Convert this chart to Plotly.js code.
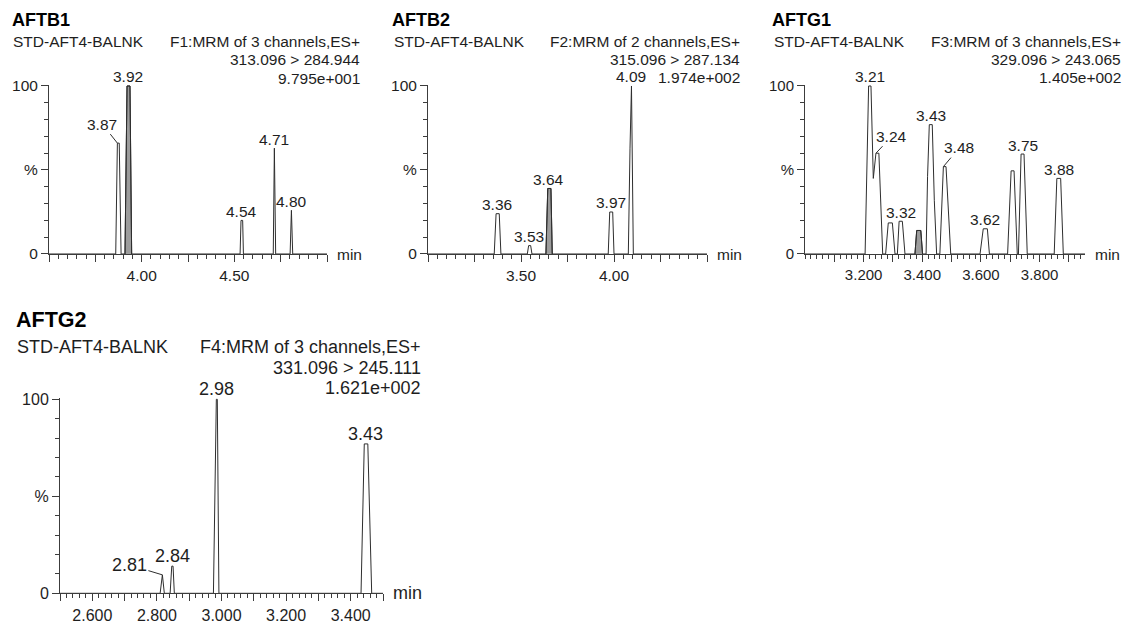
<!DOCTYPE html>
<html><head><meta charset="utf-8">
<script src="https://cdn.plot.ly/plotly-3.0.1.min.js"></script>
<style>html,body{margin:0;padding:0;background:#fff;} #chart{width:1130px;height:624px;}</style>
</head><body><div id="chart"></div>
<script>
// ---------- header texts ----------
const panelNames     = ['AFTB1', 'AFTB2', 'AFTG1', 'AFTG2'];
const sampleNames    = ['STD-AFT4-BALNK', 'STD-AFT4-BALNK', 'STD-AFT4-BALNK', 'STD-AFT4-BALNK'];
const functionNames  = ['F1:MRM of 3 channels,ES+', 'F2:MRM of 2 channels,ES+', 'F3:MRM of 3 channels,ES+', 'F4:MRM of 3 channels,ES+'];
const transitions    = ['313.096 > 284.944', '315.096 > 287.134', '329.096 > 243.065', '331.096 > 245.111'];
const maxIntensities = ['9.795e+001', '1.974e+002', '1.405e+002', '1.621e+002'];
const yTickVals = [0, 50, 100];
const yTickText = ['0', '%', '100'];

// ---------- AFTB1 ----------
const b1Time = [3.50, 3.860, 3.869, 3.879, 3.889, 3.910, 3.921, 3.937, 3.946, 4.531, 4.536, 4.545, 4.549, 4.710, 4.716, 4.723, 4.801, 4.808, 4.815, 5.00];
const b1Pct  = [0, 0, 66, 66, 0, 0, 100, 100, 0, 0, 20, 20, 0, 0, 63, 0, 0, 26, 0, 0];
const b1FillTime = [3.910, 3.921, 3.937, 3.946];
const b1FillPct  = [0, 100, 100, 0];
const b1Labels    = ['3.87', '3.92', '4.54', '4.71', '4.80'];
const b1LabelTime = [3.869, 3.926, 4.541, 4.714, 4.806];
const b1LabelPct  = [66, 100, 20, 63, 26];
const b1TickVals = [3.50, 3.75, 4.00, 4.25, 4.50, 4.75, 5.00];
const b1TickText = ['', '', '4.00', '', '4.50', '', ''];

// ---------- AFTB2 ----------
const b2Time = [3.00, 3.356, 3.366, 3.383, 3.392, 3.534, 3.541, 3.552, 3.559, 3.634, 3.644, 3.661, 3.668, 3.969, 3.977, 3.993, 4.000, 4.077, 4.086, 4.094, 4.104, 4.50];
const b2Pct  = [0, 0, 24, 24, 0, 0, 5, 5, 0, 0, 39, 39, 0, 0, 25, 25, 0, 0, 63, 100, 0, 0];
const b2FillTime = [3.634, 3.644, 3.661, 3.668];
const b2FillPct  = [0, 39, 39, 0];
const b2Labels    = ['3.36', '3.53', '3.64', '3.97', '4.09'];
const b2LabelTime = [3.370, 3.545, 3.650, 3.983, 4.094];
const b2LabelPct  = [24, 5, 39, 25, 100];
const b2TickVals = [3.00, 3.25, 3.50, 3.75, 4.00, 4.25, 4.50];
const b2TickText = ['', '', '3.50', '', '4.00', '', ''];

// ---------- AFTG1 ----------
const g1Time = [3.000, 3.205, 3.217, 3.225, 3.233, 3.242, 3.252, 3.265, 3.275, 3.284, 3.298, 3.307, 3.315, 3.321, 3.332, 3.341,
                3.375, 3.381, 3.395, 3.401, 3.413, 3.418, 3.424, 3.434, 3.441, 3.449, 3.460, 3.472, 3.481, 3.497,
                3.597, 3.608, 3.622, 3.629, 3.691, 3.703, 3.713, 3.724, 3.728, 3.737, 3.747, 3.758, 3.850, 3.859, 3.872, 3.881, 3.955];
const g1Pct  = [0, 0, 100, 100, 45, 60, 60, 0, 0, 18.5, 18.5, 0, 0, 19.5, 19.5, 0,
                0, 14, 14, 0, 0, 46, 77, 77, 32, 0, 0, 52, 52, 0,
                0, 15, 15, 0, 0, 49.5, 49.5, 0, 0, 59.5, 59.5, 0, 0, 45, 45, 0, 0];
const g1FillTime = [3.375, 3.381, 3.395, 3.401];
const g1FillPct  = [0, 14, 14, 0];
const g1Labels    = ['3.21', '3.24', '3.32', '3.43', '3.48', '3.62', '3.75', '3.88'];
const g1LabelTime = [3.221, 3.242, 3.326, 3.429, 3.472, 3.615, 3.742, 3.866];
const g1LabelPct  = [100, 60, 19.5, 77, 52, 15, 59.5, 45];
const g1TickVals = [3.1, 3.2, 3.3, 3.4, 3.5, 3.6, 3.7, 3.8, 3.9];
const g1TickText = ['', '3.200', '', '3.400', '', '3.600', '', '3.800', ''];

// ---------- AFTG2 ----------
const g2Time = [2.500, 2.810, 2.817, 2.823, 2.841, 2.846, 2.850, 2.854, 2.975, 2.980, 2.984, 2.987, 2.990, 2.992, 3.432, 3.442, 3.453, 3.465, 3.500];
const g2Pct  = [0, 0, 9.5, 0, 0, 14, 14, 0, 0, 66, 100, 100, 34, 0, 0, 77, 77, 0, 0];
const g2Labels    = ['2.81', '2.84', '2.98', '3.43'];
const g2LabelTime = [2.817, 2.848, 2.985, 3.447];
const g2LabelPct  = [9.5, 14, 100, 77];
const g2TickVals = [2.5, 2.6, 2.7, 2.8, 2.9, 3.0, 3.1, 3.2, 3.3, 3.4, 3.5];
const g2TickText = ['', '2.600', '', '2.800', '', '3.000', '', '3.200', '', '3.400', ''];

// ---------- layout helpers ----------
const W = 1130, H = 624;
const px = x => x / W, py = y => 1 - y / H;
const FONT = 'Liberation Sans, Arial, sans-serif';
const INK = '#1e1e1e', AX = '#3c3c3c', LINE = '#2e2e2e', FILL = '#9c9c9c';

const panels = [
  {i:0, time:b1Time, pct:b1Pct, fT:b1FillTime, fP:b1FillPct, labels:b1Labels, lt:b1LabelTime, lp:b1LabelPct,
   tv:b1TickVals, tt:b1TickText, range:[3.5, 5.0], minorDt:0.05,
   x0:49, x1:327, yb:254, yt:86, fs:15.5, tickFs:15.5, tfs:18, yshift:9,
   hdr:{tx:10, ty:20, sx:11, sy:42, rx:362, r1:42, r2:59, r3:78}, leaders:{0:[-15, -19]}},
  {i:1, time:b2Time, pct:b2Pct, fT:b2FillTime, fP:b2FillPct, labels:b2Labels, lt:b2LabelTime, lp:b2LabelPct,
   tv:b2TickVals, tt:b2TickText, range:[3.0, 4.5], minorDt:0.05,
   x0:428, x1:707, yb:254, yt:86, fs:15.5, tickFs:15.5, tfs:18, yshift:9,
   hdr:{tx:390, ty:20, sx:392, sy:42, rx:742, r1:42, r2:59, r3:77}, leaders:{}},
  {i:2, time:g1Time, pct:g1Pct, fT:g1FillTime, fP:g1FillPct, labels:g1Labels, lt:g1LabelTime, lp:g1LabelPct,
   tv:g1TickVals, tt:g1TickText, range:[3.0, 3.955], minorDt:0.02,
   x0:805, x1:1085, yb:254, yt:86, fs:15.5, tickFs:15, tfs:18, yshift:9,
   hdr:{tx:770, ty:20, sx:772, sy:42, rx:1123, r1:42, r2:59, r3:77}, leaders:{1:[16, -17], 4:[16, -19]}},
  {i:3, time:g2Time, pct:g2Pct, fT:null, fP:null, labels:g2Labels, lt:g2LabelTime, lp:g2LabelPct,
   tv:g2TickVals, tt:g2TickText, range:[2.5, 3.5], minorDt:0.02,
   x0:60, x1:383, yb:593.3, yt:399.3, fs:18, tickFs:16, tfs:21.5, yshift:10,
   hdr:{tx:14, ty:320, sx:15, sy:347, rx:423, r1:347, r2:368, r3:388}, leaders:{0:[-33, -10]}}
];

const YMAX = 100.8;
const traces = [], annotations = [], layout = {
  width: W, height: H, margin: {l:0, r:0, t:0, b:0}, showlegend: false,
  paper_bgcolor: '#fff', plot_bgcolor: 'rgba(0,0,0,0)',
  font: {family: FONT, color: INK}
};

panels.forEach(p => {
  const n = p.i + 1;
  const xa = n === 1 ? 'x' : 'x' + n, ya = n === 1 ? 'y' : 'y' + n;
  const xk = n === 1 ? 'xaxis' : 'xaxis' + n, yk = n === 1 ? 'yaxis' : 'yaxis' + n;
  const pxPerPct = (p.yb - p.yt) / 100;
  const topPx = p.yb - YMAX * pxPerPct;

  if (p.fT) {
    traces.push({x: p.fT, y: p.fP, xaxis: xa, yaxis: ya, type: 'scatter', mode: 'lines',
      fill: 'tozeroy', fillcolor: FILL, line: {color: LINE, width: 1}, hoverinfo: 'skip'});
  }
  traces.push({x: p.time, y: p.pct, xaxis: xa, yaxis: ya, type: 'scatter', mode: 'lines',
    line: {color: LINE, width: 1}, hoverinfo: 'skip'});

  const tickfont = {family: FONT, size: p.tickFs, color: INK};
  layout[xk] = {domain: [px(p.x0), px(p.x1)], range: p.range, anchor: ya, showline: true, linecolor: AX, linewidth: 1,
    ticks: 'outside', ticklen: 7, tickwidth: 1, tickcolor: AX, tickmode: 'array', tickvals: p.tv, ticktext: p.tt,
    showgrid: false, zeroline: false, tickfont: tickfont, fixedrange: true,
    minor: {tickmode: 'linear', tick0: 0, dtick: p.minorDt, ticks: 'outside', ticklen: 4, tickwidth: 1, tickcolor: AX, showgrid: false}};
  layout[yk] = {domain: [py(p.yb), py(topPx)], range: [0, YMAX], anchor: xa, showline: true, linecolor: AX, linewidth: 1,
    ticks: 'outside', ticklen: 7, tickwidth: 1, tickcolor: AX, tickmode: 'array', tickvals: yTickVals, ticktext: yTickText,
    showgrid: false, zeroline: false, tickfont: tickfont, fixedrange: true,
    minor: {tickmode: 'linear', tick0: 0, dtick: 10, ticks: 'outside', ticklen: 4, tickwidth: 1, tickcolor: AX, showgrid: false}};

  const h = p.hdr, f = {family: FONT, size: p.fs, color: INK};
  const paperText = (text, x, y, xanchor, font) => annotations.push({text, x: px(x), y: py(y), xref: 'paper', yref: 'paper',
    xanchor, yanchor: 'middle', showarrow: false, font});
  paperText('<b>' + panelNames[p.i] + '</b>', h.tx, h.ty, 'left', {family: FONT, size: p.tfs, color: '#000'});
  paperText(sampleNames[p.i], h.sx, h.sy, 'left', f);
  paperText(functionNames[p.i], h.rx, h.r1, 'right', f);
  paperText(transitions[p.i], h.rx, h.r2, 'right', f);
  paperText(maxIntensities[p.i], h.rx, h.r3, 'right', f);
  paperText('min', p.x1 + 8, p.yb, 'left', f);

  p.labels.forEach((lab, k) => {
    const ld = p.leaders[k];
    if (ld) {
      annotations.push({text: lab, x: p.lt[k], y: p.lp[k], xref: xa, yref: ya, showarrow: true, arrowhead: 0,
        arrowwidth: 1, arrowcolor: LINE, ax: ld[0], ay: ld[1], standoff: 0, font: f});
    } else {
      annotations.push({text: lab, x: p.lt[k], y: p.lp[k], xref: xa, yref: ya, showarrow: false,
        xanchor: 'center', yanchor: 'middle', yshift: p.yshift, font: f});
    }
  });
});

layout.annotations = annotations;
Plotly.newPlot('chart', traces, layout, {staticPlot: true, displayModeBar: false});
</script>
</body></html>
